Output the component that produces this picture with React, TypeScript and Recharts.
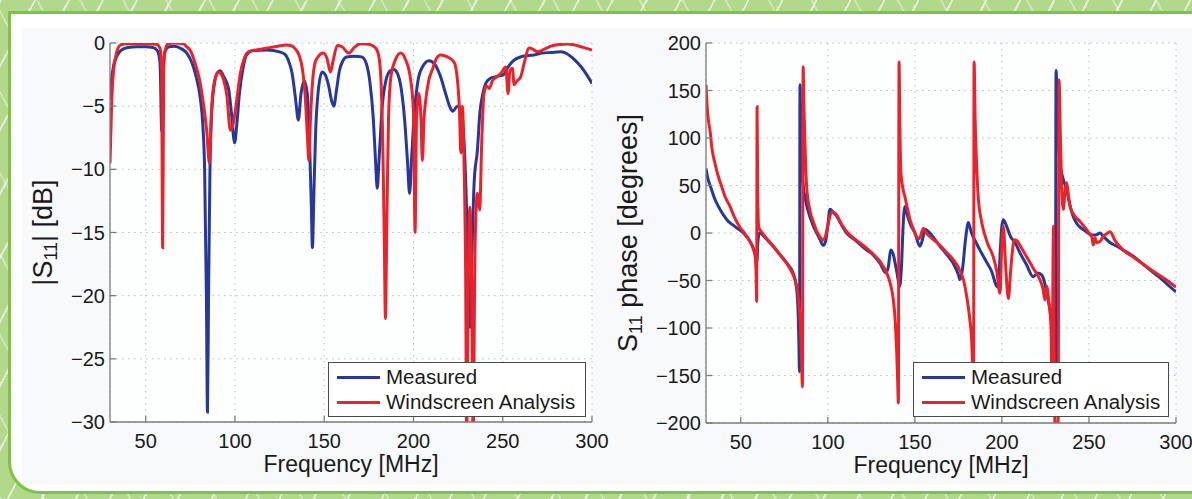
import React from 'react';
import { LineChart, Line, XAxis, YAxis, CartesianGrid } from 'recharts';

const FONT = '"Liberation Sans", Arial, Helvetica, sans-serif';
const BLUE = '#28389a';
const RED = '#ea2229';
const AXIS = '#7d7d7d';
const TEXT = '#1a1a1a';

const freqTicks = [50, 100, 150, 200, 250, 300];
const magTicks = [-30, -25, -20, -15, -10, -5, 0];
const phaseTicks = [-200, -150, -100, -50, 0, 50, 100, 150, 200];

// |S11| [dB] — measured
const measuredMag: [number, number][] = [
  [30, -4.5], [31, -2.8], [32, -1.8], [34, -1.0], [36, -0.6], [40, -0.35], [45, -0.3], [50, -0.3],
  [54, -0.35], [56.5, -0.6], [58, -1.5], [59, -7], [60, -1.5], [61, -0.6], [63, -0.3], [66, -0.25],
  [70, -0.45], [73, -0.8], [76, -1.6], [78.5, -2.8], [80.5, -4.3], [82, -6.5], [83, -10], [84, -20],
  [84.6, -29.2], [85.2, -20], [86, -10], [87, -5.5], [88.5, -3.2], [90, -2.4], [91.7, -2.2], [93.5, -2.6],
  [96.4, -3.6], [98, -5.5], [99.8, -7.9], [101, -6.5], [102.5, -4], [104.5, -2], [106.7, -0.9], [110, -0.6],
  [118, -0.55], [125, -0.7], [128, -0.9], [130.5, -1.6], [132, -2.4], [134, -4.5], [135.5, -6.1], [137, -4],
  [138.8, -3], [140.5, -4], [141.8, -8], [142.8, -13], [143.4, -16.2], [144.2, -12], [145.2, -7], [146.5, -4],
  [148.8, -2.3], [150.5, -2.5], [152.5, -3.4], [154.2, -4.6], [155.4, -5.0], [156.8, -3.8], [158.5, -2.2],
  [160.5, -1.4], [162.5, -1.1], [167, -1.05], [171, -1.1], [173.5, -1.6], [175.5, -3], [177.5, -6],
  [178.8, -9.5], [179.7, -11.5], [180.8, -9], [182.5, -5], [184.5, -3], [187, -2.2], [189, -2.1],
  [191, -2.4], [193, -3.5], [195, -6], [196.7, -9.5], [197.8, -11.9], [199, -9], [200.5, -5.5], [202.5, -3],
  [205, -1.9], [208.7, -1.4], [212, -1.7], [215, -2.6], [218, -4], [220.5, -5.1], [222, -5.4], [224.6, -5.0],
  [226.5, -5.3], [228, -7], [229.5, -12], [230.8, -19], [231.7, -22.5], [232.7, -17], [234, -11],
  [235.8, -8.5], [237.2, -5.5], [238.6, -4.2], [240.5, -3.2], [243, -2.8], [245, -2.7], [248, -2.6],
  [250.5, -2.5], [253, -1.9], [256, -1.4], [260, -1.1], [264, -1.0], [267.5, -0.95], [272, -0.8],
  [277, -0.75], [282.6, -0.7], [286, -0.85], [290, -1.3], [294, -1.9], [297, -2.5], [300, -3.2],
];

// |S11| [dB] — windscreen analysis
const windscreenMag: [number, number][] = [
  [30, -9.5], [30.5, -7], [31, -4.5], [32, -2.2], [33, -1.2], [34.5, -0.4], [36, -0.15], [40, -0.05],
  [50, -0.05], [56, -0.1], [58, -0.4], [58.9, -2], [59.5, -16.2], [60.1, -2], [61, -0.5], [62.6, -0.05],
  [66, 0], [71, -0.05], [73, -0.3], [75, -0.6], [77, -1.3], [78.7, -2.1], [80, -2.8], [81.5, -4.0],
  [83, -5.5], [84.2, -7], [85.7, -9.5], [86.5, -6.5], [87.5, -4], [89, -2.8], [90.8, -2.3], [92, -2.4],
  [93.6, -2.9], [95.5, -4.2], [97.4, -6.9], [99, -6.4], [101, -4.5], [103, -2.4], [105, -1.3], [107.6, -0.7],
  [112, -0.55], [118, -0.4], [124, -0.25], [129, -0.15], [132, -0.25], [134, -0.5], [136, -1], [137.6, -1.9],
  [139.5, -4.5], [140.6, -7.5], [141.4, -9.3], [142.3, -6], [143.5, -3], [145, -1.5], [146.5, -1.1],
  [149.5, -0.8], [151.5, -1.2], [153.5, -2.3], [155, -1.4], [157.3, -0.2], [160, -0.3], [163.8, -0.8],
  [166.5, -0.4], [170.3, -0.05], [175, -0.1], [178.8, -0.4], [180.5, -1], [181.8, -3], [182.8, -8],
  [183.6, -15], [184.3, -21.8], [185, -15], [186, -6], [187.5, -2.5], [190, -1.3], [192.8, -0.8],
  [195.5, -1.3], [198.4, -2.9], [200, -5.5], [200.9, -15], [201.7, -6], [203, -4], [204.2, -6], [205, -9.3],
  [205.9, -6], [206.8, -4.6], [208.5, -3], [210.6, -2.1], [213, -1.2], [215.2, -0.95], [219, -1.1],
  [222.7, -1.5], [224.6, -2.9], [225.8, -5.5], [226.5, -8.7], [227.4, -5], [228.3, -9.3], [229.2, -18],
  [229.8, -31], [230.6, -20], [231.5, -13], [232.5, -18], [233.4, -31], [234.5, -16], [235.8, -11.9],
  [237.1, -13.2], [238.2, -8], [239.5, -4.0], [241, -3.4], [242.5, -3.6], [244.2, -3.0], [246.5, -2.7],
  [249, -2.4], [251.7, -1.9], [253, -4.0], [254, -2.2], [255.4, -2.0], [256.4, -3.3], [258, -3.0],
  [260, -2.7], [262, -1.6], [264.8, -0.4], [267, -0.5], [269.5, -0.7], [273, -0.5], [277, -0.25],
  [282, -0.12], [286.4, -0.08], [290, -0.15], [295, -0.35], [300, -0.55],
];

// S11 phase [degrees] — measured
const measuredPhase: [number, number][] = [
  [30, 68], [31, 58], [32, 52], [33.3, 45], [35, 36], [37.1, 28], [40, 19], [42, 14], [45, 9], [49.5, 3],
  [52, -1], [55.3, -9], [57, -15], [58.3, -22], [59.2, -30], [59.8, -10], [60.5, -1], [61, 0], [63, -3],
  [66, -9], [70, -17], [74, -26], [77, -33], [80, -42], [81.5, -52], [82.6, -70], [83.3, -110], [83.7, -146],
  [84, 156], [84.5, 110], [85, 74], [85.9, 49], [87, 36], [89.7, 17], [92, 6], [93.6, 0], [95.5, -7],
  [97.4, -13], [98.8, -8], [100, 8], [101.2, 25], [103, 22], [105, 18], [108, 8], [110.8, 0], [116, -8],
  [122.3, -18], [126, -23], [130, -32], [133.4, -42], [134.8, -35], [136.1, -18], [137.5, -22], [139.5, -40],
  [141.3, -56], [142.3, -35], [143.3, 10], [144.3, 28], [145.5, 20], [147.2, 10], [150, 0], [152.9, -14],
  [154.5, -6], [155.8, 4], [157.5, 2], [160, -3], [164.4, -14], [168, -22], [172, -32], [175, -44],
  [175.9, -49], [177.2, -40], [179.2, -5], [180.7, 11], [182.5, 0], [184, -6], [187.4, -18], [191, -30],
  [194, -40], [197, -56], [197.9, -57], [199, -20], [200, 8], [200.8, 14], [202.5, 8], [205, -4],
  [207.5, -10], [210.4, -21], [214, -33], [218, -46], [220.5, -42], [222.8, -44], [224.5, -52],
  [225.7, -63], [227, -75], [228.5, -95], [229.3, -120], [230.2, -170], [230.7, -170], [231.1, 171],
  [232, 120], [233.4, 73], [235, 58], [237.2, 45], [239, 30], [241, 17], [243, 10], [245, 6], [248, 2],
  [251.6, -2], [254, -2], [256.3, 0], [258, -3], [262, -10], [266, -14], [269.7, -18], [275, -24],
  [283.2, -36], [290, -46], [295, -54], [300, -62],
];

// S11 phase [degrees] — windscreen analysis
const windscreenPhase: [number, number][] = [
  [30, 156], [30.6, 135], [31.3, 120], [32.3, 108], [33.5, 88], [35.2, 73], [37, 60], [39, 49], [41, 38],
  [43.8, 28], [46, 18], [49.5, 6], [52, 0], [55, -8], [57, -16], [58.2, -24], [58.8, -45], [59.1, -72],
  [59.35, 133], [59.7, 40], [60.3, 6], [62, 1], [65, -6], [68.7, -14], [72, -22], [76.4, -32], [79, -40],
  [81.1, -49], [82.3, -58], [83, -67], [84, -90], [84.8, -125], [85.4, -162], [85.8, 175], [86.3, 130],
  [86.9, 91], [87.8, 49], [89.7, 24], [92, 10], [93.6, 2], [95.5, -4], [97, -7.5], [98.5, -4], [100, 8],
  [102.2, 22], [104, 21], [105, 19], [108, 9], [111, 1], [116, -7], [122.3, -16], [127, -24], [130, -30],
  [133.8, -42], [136, -54], [137.6, -70], [138.8, -95], [139.5, -123], [140.1, -155], [140.5, -179],
  [140.9, 180], [141.4, 110], [142, 63], [143, 48], [144.3, 38], [145.7, 26], [147.2, 14], [149, 5],
  [151, -4], [152.5, -6], [154.9, 5], [156.5, 0], [160, -6], [164.4, -13], [168, -20], [172, -28],
  [175.9, -39.5], [178, -50], [179.8, -67], [181.5, -90], [182.6, -113], [183.3, -150], [183.7, -190],
  [184, 180], [184.6, 120], [185.5, 70], [186.5, 35], [188, 15], [189.4, 3], [192, -12], [195, -25],
  [197, -40], [198.9, -63.5], [199.8, -20], [200.8, 7], [202, -30], [203.7, -69], [205, -40], [206.5, -12],
  [207.5, -7], [209, -9], [211, -15], [214.2, -25], [218, -37], [221.9, -49.5], [223.5, -58], [224.8, -70.5],
  [225.7, -56], [227, -72], [228.2, -100], [228.8, -160], [229.3, -40], [229.6, 7], [229.9, -100],
  [230.5, -200], [232.3, -200], [232.8, 161], [233.6, 100], [234.3, 50], [235.3, 25], [236.3, 45],
  [237.2, 53], [238.2, 40], [239.1, 28], [241, 20], [244.9, 12], [248, 5], [250, 0], [251.6, -4],
  [252.5, -12.6], [253.5, -5], [254.5, -10], [256.3, -9], [258, -4], [260, -1], [262.1, 1.4], [265, -8],
  [269.7, -18], [276, -26], [283.2, -35.5], [290, -44], [295, -50], [300, -57],
];

const toPts = (arr: [number, number][]) => arr.map(([f, v]) => ({ f, v }));
const fmt = (v: number) => (v < 0 ? '\u2212' + Math.abs(v) : String(v));

function XTitle(props: any) {
  const vb = props.viewBox || { x: 0, y: 0, width: 0, height: 0 };
  const cx = vb.x + vb.width / 2;
  return (
    <text x={cx} y={vb.y + 50} textAnchor="middle" fontSize={23} fill={TEXT} fontFamily={FONT}>
      Frequency [MHz]
    </text>
  );
}

function YTitle(props: any) {
  const vb = props.viewBox || { x: 0, y: 0, width: 0, height: 0 };
  const cx = vb.x + props.shift;
  const cy = vb.y + vb.height / 2;
  return (
    <text
      x={cx}
      y={cy}
      transform={`rotate(-90 ${cx} ${cy})`}
      textAnchor="middle"
      dominantBaseline="central"
      fontSize={27}
      fill={TEXT}
      fontFamily={FONT}
    >
      {props.pre}
      <tspan dy={8} fontSize={18}>11</tspan>
      <tspan dy={-8}>{props.post}</tspan>
    </text>
  );
}

function LegendBox({ left, top, width, height }: { left: number; top: number; width: number; height: number }) {
  const row = (color: string, label: string) => (
    <div style={{ display: 'flex', alignItems: 'center', height: 25 }}>
      <div style={{ width: 43, height: 3, background: color, marginRight: 6 }} />
      <span>{label}</span>
    </div>
  );
  return (
    <div
      style={{
        position: 'absolute',
        left,
        top,
        width,
        height,
        boxSizing: 'border-box',
        border: '1px solid #4a4a4a',
        background: '#ffffff',
        fontFamily: FONT,
        fontSize: 20.5,
        color: TEXT,
        padding: '2px 0 0 8px',
        lineHeight: 1,
      }}
    >
      {row(BLUE, 'Measured')}
      {row(RED, 'Windscreen Analysis')}
    </div>
  );
}

type PanelProps = {
  width: number;
  height: number;
  margin: { top: number; right: number; bottom: number; left: number };
  yDomain: [number, number];
  yTicks: number[];
  measured: [number, number][];
  windscreen: [number, number][];
  yTitle: React.ReactElement;
};

function Panel({ width, height, margin, yDomain, yTicks, measured, windscreen, yTitle }: PanelProps) {
  const tickStyle = { fill: TEXT, fontSize: 20, fontFamily: FONT };
  return (
    <LineChart width={width} height={height} margin={margin} style={{ overflow: 'visible' }}>
      <CartesianGrid xAxisId="b" yAxisId="l" stroke="#b9bec4" strokeDasharray="1.5 4.5" fill="#fdfefe" />
      <XAxis
        xAxisId="b"
        dataKey="f"
        type="number"
        domain={[30, 300]}
        ticks={freqTicks}
        interval={0}
        allowDataOverflow
        height={40}
        tickSize={-6}
        tickMargin={18}
        stroke={AXIS}
        strokeWidth={1.3}
        tick={tickStyle}
        label={<XTitle />}
      />
      <XAxis
        xAxisId="t"
        orientation="top"
        type="number"
        domain={[30, 300]}
        ticks={freqTicks}
        interval={0}
        allowDataOverflow
        height={0}
        tickSize={-6}
        tick={false}
        stroke={AXIS}
        strokeWidth={1.3}
      />
      <YAxis
        yAxisId="l"
        type="number"
        domain={yDomain}
        ticks={yTicks}
        interval={0}
        allowDataOverflow
        width={60}
        tickSize={-6}
        tickMargin={11}
        stroke={AXIS}
        strokeWidth={1.3}
        tick={tickStyle}
        tickFormatter={fmt}
        label={yTitle}
      />
      <YAxis
        yAxisId="r"
        orientation="right"
        type="number"
        domain={yDomain}
        ticks={yTicks}
        interval={0}
        allowDataOverflow
        width={0}
        tickSize={-6}
        tick={false}
        stroke={AXIS}
        strokeWidth={1.3}
      />
      <Line
        xAxisId="b"
        yAxisId="l"
        data={toPts(measured)}
        dataKey="v"
        type="monotone"
        stroke={BLUE}
        strokeWidth={3}
        dot={false}
        isAnimationActive={false}
      />
      <Line
        xAxisId="b"
        yAxisId="l"
        data={toPts(windscreen)}
        dataKey="v"
        type="monotone"
        stroke={RED}
        strokeWidth={3}
        dot={false}
        isAnimationActive={false}
      />
    </LineChart>
  );
}

export default function App() {
  const pattern =
    'repeating-linear-gradient(118deg, rgba(255,255,255,0.6) 0 2px, transparent 2px 30px), ' +
    'repeating-linear-gradient(62deg, rgba(255,255,255,0.35) 0 2px, transparent 2px 38px), #b2d88c';
  return (
    <div
      style={{
        position: 'absolute',
        left: 0,
        top: 0,
        width: 1192,
        height: 499,
        overflow: 'hidden',
        background: pattern,
        fontFamily: FONT,
      }}
    >
      <div
        style={{
          position: 'absolute',
          left: 8,
          top: 11,
          width: 1210,
          height: 483,
          boxSizing: 'border-box',
          background: '#ffffff',
          border: '3px solid #80c244',
          borderRight: 'none',
          borderBottomLeftRadius: 32,
        }}
      />
      <div style={{ position: 'absolute', left: 22, top: 28, width: 1170, height: 456, background: '#f7f9fb' }} />
      <div style={{ position: 'absolute', left: 0, top: 0 }}>
        <Panel
          width={620}
          height={499}
          margin={{ top: 43, right: 28, bottom: 37, left: 50 }}
          yDomain={[-30, 0]}
          yTicks={magTicks}
          measured={measuredMag}
          windscreen={windscreenMag}
          yTitle={<YTitle shift={-7} pre="|S" post="| [dB]" />}
        />
        <LegendBox left={328} top={362} width={258} height={55} />
      </div>
      <div style={{ position: 'absolute', left: 580, top: 0 }}>
        <Panel
          width={612}
          height={499}
          margin={{ top: 43, right: 16, bottom: 36, left: 66 }}
          yDomain={[-200, 200]}
          yTicks={phaseTicks}
          measured={measuredPhase}
          windscreen={windscreenPhase}
          yTitle={<YTitle shift={-18} pre="S" post=" phase [degrees]" />}
        />
        <LegendBox left={333} top={362} width={256} height={55} />
      </div>
    </div>
  );
}
